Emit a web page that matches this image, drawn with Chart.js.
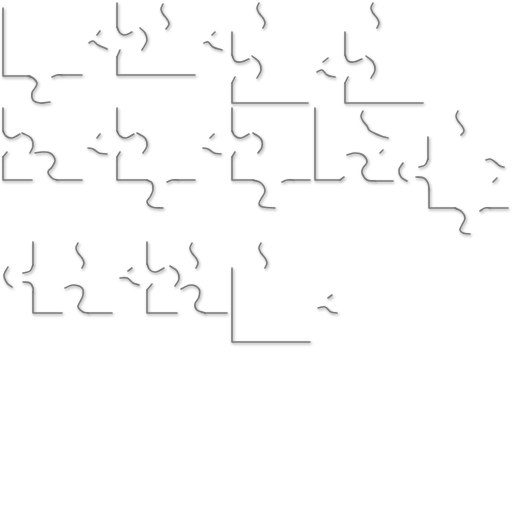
<!DOCTYPE html>
<html>
<head>
<meta charset="utf-8">
<script src="https://cdn.jsdelivr.net/npm/chart.js@4/dist/chart.umd.min.js"></script>
<style>
  html, body { margin: 0; padding: 0; background: #ffffff; }
  #wrap { width: 512px; height: 512px; }
</style>
</head>
<body>
<div id="wrap"><canvas id="c" width="512" height="512"></canvas></div>
<script>
// Stroke data: each stroke is a list of [x, y] points (pixel units, y downward).
// Row 1
const pieceA_lines  = [[[3,8],[3,76],[30,76]], [[62,75],[82,75]]];
const pieceA_curves = [[[28,76],[33,78],[37,83],[35,88],[32,93],[33,100],[40,103],[50,102]], [[52,77],[57,75],[62,75]]];

const pieceB_lines  = [[[117,3],[117,27]], [[117,57],[117,75],[195,75]]];
const pieceB_curves = [[[117,27],[120,33],[125,35],[132,32]], [[140,28],[145,33],[147,40],[145,45],[142,50]],
                       [[120,50],[117,57]], [[163,4],[161,9],[163,14],[167,19],[169,24],[166,29]],
                       [[97,35],[100,31]], [[89,43],[93,41],[98,45],[107,49]]];

const pieceC_lines  = [[[232,32],[232,55]], [[232,83],[232,103],[308,103]]];
const pieceC_curves = [[[232,55],[235,61],[241,62],[249,59]], [[252,56],[259,62],[261,70],[257,78]],
                       [[235,77],[232,83]], [[259,3],[257,8],[259,13],[263,18],[265,23],[263,28]],
                       [[212,35],[215,32]], [[204,43],[208,42],[213,47],[222,50]]];

const pieceD_lines  = [[[345,32],[345,55]], [[345,83],[345,103],[423,103]]];
const pieceD_curves = [[[345,55],[348,61],[354,62],[362,59]], [[366,56],[373,62],[375,70],[371,78]],
                       [[348,77],[345,83]], [[373,3],[371,8],[373,13],[377,18],[379,23],[377,28]],
                       [[323,62],[328,58]], [[317,72],[322,70],[327,75],[335,77]]];

// Row 2
const pieceE_lines  = [[[3,108],[3,131]], [[3,157],[3,180],[32,180]], [[57,180],[82,180]]];
const pieceE_curves = [[[3,131],[6,136],[12,138],[20,134]], [[22,133],[31,138],[33,146],[30,153]],
                       [[7,152],[3,157]], [[35,153],[42,152],[50,153],[55,160],[52,167],[48,172],[52,178],[57,180]]];

const pieceF_lines  = [[[117,108],[117,131]], [[117,157],[117,180],[147,180]], [[178,180],[195,180]]];
const pieceF_curves = [[[117,131],[120,136],[126,138],[134,134]], [[137,133],[145,138],[147,146],[143,153]],
                       [[120,152],[117,157]], [[147,180],[152,183],[153,190],[150,197],[147,202],[152,207],[163,208]],
                       [[167,182],[172,180],[178,180]],
                       [[97,138],[100,134]], [[88,148],[93,149],[99,153],[107,154]],
                       [[210,138],[214,134]], [[203,148],[208,149],[214,153],[221,154]]];

const pieceG_lines  = [[[232,108],[232,131]], [[232,157],[232,180],[253,180]], [[293,180],[310,180]]];
const pieceG_curves = [[[232,131],[235,136],[241,138],[249,134]], [[253,133],[261,139],[262,147],[258,153]],
                       [[235,152],[232,157]], [[253,180],[261,183],[265,191],[261,199],[259,204],[263,207],[275,208]],
                       [[282,182],[287,180],[293,180]]];

const pieceH_lines  = [[[315,108],[315,180],[340,180]], [[375,181],[393,181]]];
const pieceH_curves = [[[340,180],[344,177]], [[347,155],[355,153],[363,155],[367,162],[363,168],[362,173],[367,180],[375,181]],
                       [[363,111],[361,116],[363,121],[367,126],[369,130],[374,133],[381,136],[388,138]],
                       [[380,153],[383,150]]];

const pieceI_lines  = [[[428,137],[428,159]], [[429,189],[429,208],[455,208]], [[490,208],[508,208]]];
const pieceI_curves = [[[403,163],[399,170],[401,177],[407,181]], [[428,159],[425,165],[419,167]],
                       [[416,177],[424,178],[428,183],[429,189]],
                       [[455,208],[462,212],[465,218],[462,225],[460,230],[463,233],[470,234]],
                       [[480,211],[485,208],[490,208]], [[458,111],[456,116],[458,121],[462,126],[464,131],[461,135]],
                       [[486,160],[490,159],[495,162],[500,166],[504,167]], [[493,182],[497,178]]];

// Row 3
const pieceJ_lines  = [[[33,242],[33,265]], [[33,292],[33,313],[62,313]], [[88,313],[112,313]]];
const pieceJ_curves = [[[8,267],[4,275],[7,283],[12,287]], [[33,265],[30,271],[23,273]],
                       [[23,282],[30,283],[33,288],[33,292]],
                       [[65,288],[73,285],[82,288],[83,295],[80,302],[78,307],[83,312],[88,313]],
                       [[78,243],[76,248],[78,253],[82,258],[84,263],[82,268]]];

const pieceK_lines  = [[[147,242],[147,264]], [[147,290],[147,313],[177,313]], [[205,313],[227,313]]];
const pieceK_curves = [[[147,264],[150,270],[156,272],[164,268]], [[170,266],[177,271],[179,279],[175,286]],
                       [[152,284],[147,290]],
                       [[181,289],[191,285],[199,289],[199,297],[195,304],[197,310],[205,313]],
                       [[192,243],[190,248],[192,253],[196,258],[198,263],[196,268]],
                       [[128,271],[132,268]], [[120,278],[127,278],[133,283],[139,285]]];

const pieceL_lines  = [[[232,268],[232,342],[310,342]]];
const pieceL_curves = [[[261,243],[259,248],[261,253],[265,258],[267,263],[265,268]],
                       [[328,298],[332,295]], [[318,308],[325,307],[331,312],[337,313]]];

const allLines = [pieceA_lines, pieceB_lines, pieceC_lines, pieceD_lines, pieceE_lines, pieceF_lines,
                  pieceG_lines, pieceH_lines, pieceI_lines, pieceJ_lines, pieceK_lines, pieceL_lines];
const allCurves = [pieceA_curves, pieceB_curves, pieceC_curves, pieceD_curves, pieceE_curves, pieceF_curves,
                   pieceG_curves, pieceH_curves, pieceI_curves, pieceJ_curves, pieceK_curves, pieceL_curves];

function toDataset(stroke, tension) {
  return {
    data: stroke.map(p => ({ x: p[0], y: p[1] })),
    borderColor: '#7a7a7a',
    borderWidth: 1.6,
    borderCapStyle: 'round',
    borderJoinStyle: 'round',
    pointRadius: 0,
    fill: false,
    tension: tension
  };
}

const datasets = [];
allLines.forEach(group => group.forEach(s => datasets.push(toDataset(s, 0))));
allCurves.forEach(group => group.forEach(s => datasets.push(toDataset(s, 0.4))));

const shadowPlugin = {
  id: 'emboss',
  beforeDatasetsDraw(chart) {
    const ctx = chart.ctx;
    ctx.save();
    ctx.shadowColor = 'rgba(0,0,0,0.4)';
    ctx.shadowBlur = 3;
    ctx.shadowOffsetX = 1;
    ctx.shadowOffsetY = 1.5;
  },
  afterDatasetsDraw(chart) {
    chart.ctx.restore();
  }
};

new Chart(document.getElementById('c'), {
  type: 'line',
  data: { datasets: datasets },
  options: {
    responsive: false,
    animation: false,
    layout: { padding: 0 },
    plugins: { legend: { display: false }, tooltip: { enabled: false } },
    elements: { line: { capBezierPoints: false } },
    scales: {
      x: { type: 'linear', min: 0, max: 512, display: false },
      y: { type: 'linear', min: 0, max: 512, reverse: true, display: false }
    }
  },
  plugins: [shadowPlugin]
});
</script>
</body>
</html>
